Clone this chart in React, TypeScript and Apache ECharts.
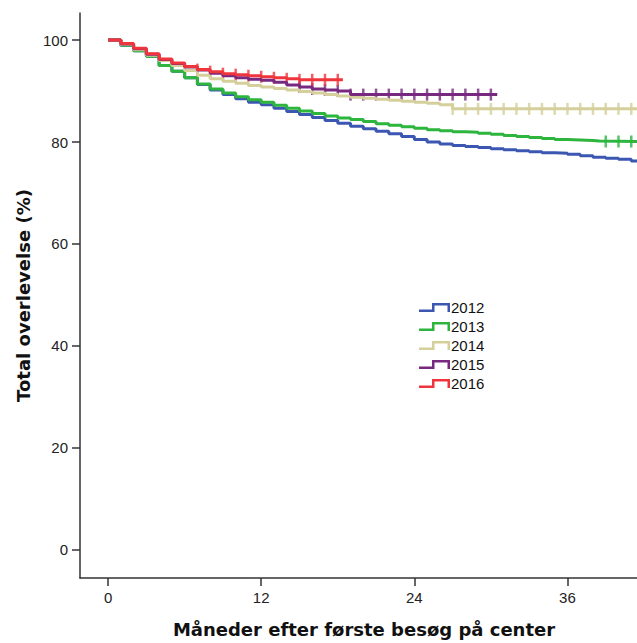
import React, { useEffect, useRef } from "react";
import * as echarts from "echarts";

const years = ["2012", "2013", "2014", "2015", "2016"];
const lineColors = ["#3B57B2", "#2DB53E", "#D5D09B", "#76297F", "#F0343C"];

const xTicks = [0, 12, 24, 36];
const yTicks = [0, 20, 40, 60, 80, 100];

// 2012
const months2012 = [0, 1, 2, 3, 4, 5, 6, 7, 8, 9, 10, 11, 12, 13, 14, 15, 16, 17, 18, 19, 20, 21, 22, 23, 24, 25, 26, 27, 28, 29, 30, 31, 32, 33, 34, 35, 36, 37, 38, 39, 40, 41, 42];
const surv2012 = [100, 99.0, 97.9, 96.8, 95.0, 93.9, 92.6, 91.3, 90.2, 89.3, 88.5, 87.8, 87.3, 86.6, 86.0, 85.4, 84.8, 84.2, 83.7, 83.1, 82.6, 82.1, 81.6, 81.1, 80.5, 80.0, 79.6, 79.3, 79.1, 78.9, 78.7, 78.5, 78.3, 78.1, 77.9, 77.8, 77.6, 77.3, 77.0, 76.8, 76.6, 76.3, 76.1];
const end2012 = 42;
const censor2012: number[] = [];

// 2013
const months2013 = [0, 1, 2, 3, 4, 5, 6, 7, 8, 9, 10, 11, 12, 13, 14, 15, 16, 17, 18, 19, 20, 21, 22, 23, 24, 25, 26, 27, 28, 29, 30, 31, 32, 33, 34, 35, 36, 37, 38, 38.5];
const surv2013 = [100, 99.0, 97.9, 96.8, 95.0, 93.9, 92.6, 91.4, 90.4, 89.6, 88.9, 88.3, 87.8, 87.2, 86.6, 86.1, 85.6, 85.1, 84.7, 84.4, 84.0, 83.6, 83.3, 83.0, 82.7, 82.4, 82.2, 82.0, 81.9, 81.7, 81.5, 81.3, 81.1, 80.9, 80.7, 80.5, 80.4, 80.3, 80.2, 80.1];
const end2013 = 42;
const censor2013 = [39, 40, 41];

// 2014
const months2014 = [0, 1, 2, 3, 4, 5, 6, 7, 8, 9, 10, 11, 12, 13, 14, 15, 16, 17, 18, 19, 20, 21, 22, 23, 24, 25, 26, 27];
const surv2014 = [100, 99.1, 98.1, 97.0, 96.0, 95.0, 94.0, 93.1, 92.4, 91.9, 91.5, 91.1, 90.8, 90.5, 90.2, 89.9, 89.6, 89.3, 89.0, 88.8, 88.6, 88.4, 88.2, 88.0, 87.8, 87.6, 87.3, 86.5];
const end2014 = 42;
const censor2014 = [27, 28, 29, 30, 31, 32, 33, 34, 35, 36, 37, 38, 39, 40, 41];

// 2015
const months2015 = [0, 1, 2, 3, 4, 5, 6, 7, 8, 9, 10, 11, 12, 13, 14, 15, 16, 17, 18, 19];
const surv2015 = [100, 99.2, 98.3, 97.2, 96.2, 95.4, 94.7, 94.1, 93.5, 93.0, 92.6, 92.3, 92.1, 91.7, 91.2, 90.8, 90.4, 90.2, 90.0, 89.3];
const end2015 = 30.5;
const censor2015 = [15, 16, 17, 18, 19, 20, 21, 22, 23, 24, 25, 26, 27, 28, 29, 30];

// 2016
const months2016 = [0, 1, 2, 3, 4, 5, 6, 7, 8, 9, 10, 11, 12, 13, 14, 15];
const surv2016 = [100, 99.3, 98.4, 97.3, 96.3, 95.5, 94.8, 94.2, 93.8, 93.4, 93.2, 93.0, 92.8, 92.6, 92.4, 92.2];
const end2016 = 18.4;
const censor2016 = [7, 8, 9, 10, 11, 12, 13, 14, 15, 16, 17, 18];

const allMonths = [months2012, months2013, months2014, months2015, months2016];
const allSurv = [surv2012, surv2013, surv2014, surv2015, surv2016];
const allEnds = [end2012, end2013, end2014, end2015, end2016];
const allCensor = [censor2012, censor2013, censor2014, censor2015, censor2016];

function survivalAt(months: number[], surv: number[], t: number) {
  let v = surv[0];
  for (let i = 0; i < months.length; i++) {
    if (months[i] <= t) v = surv[i];
  }
  return v;
}

const FONT = "'Liberation Sans', Arial, sans-serif";
const TITLE_FONT = "'DejaVu Sans', Verdana, sans-serif";
const legendIcon =
  "path://M0,6.5L13,6.5L13,0L31,0L31,9L28.5,9L28.5,2.5L15.5,2.5L15.5,9L0,9Z";

export default function App() {
  const ref = useRef<HTMLDivElement>(null);
  useEffect(() => {
    if (!ref.current) return;
    const chart = echarts.init(ref.current, null, { renderer: "svg" });
    const series: any[] = [];
    years.forEach((y, i) => {
      const months = allMonths[i];
      const surv = allSurv[i];
      const data = months.map((m, k) => [m, surv[k]]);
      data.push([allEnds[i], surv[surv.length - 1]]);
      series.push({
        name: y,
        type: "line",
        step: "end",
        data,
        symbol: "none",
        showSymbol: false,
        lineStyle: { color: lineColors[i], width: 3 },
        itemStyle: { color: lineColors[i] },
        clip: true,
        silent: true,
      });
      if (allCensor[i].length) {
        series.push({
          name: y + " censor",
          type: "scatter",
          data: allCensor[i].map((t) => [t, survivalAt(months, surv, t)]),
          symbol: "rect",
          symbolSize: [2.5, 12],
          itemStyle: { color: lineColors[i] },
          silent: true,
        });
      }
    });

    const axisColor = "#333";
    chart.setOption({
      animation: false,
      backgroundColor: "#ffffff",
      textStyle: { fontFamily: FONT },
      grid: { left: 80, right: 0, top: 13, bottom: 63 },
      legend: {
        data: years.map((y, i) => ({
          name: y,
          icon: legendIcon,
          itemStyle: { color: lineColors[i], borderWidth: 0 },
        })),
        orient: "vertical",
        left: 414,
        top: 295,
        itemWidth: 31,
        itemHeight: 9,
        itemGap: 4,
        selectedMode: false,
        textStyle: { fontSize: 15, color: "#111", fontFamily: FONT, lineHeight: 15, padding: [0, 0, 0, -4] },
      },
      xAxis: {
        type: "value",
        min: -2.2,
        max: 41.45,
        axisLine: { show: true, onZero: false, lineStyle: { color: axisColor, width: 1.5 } },
        axisTick: { show: true, customValues: xTicks, length: 8, lineStyle: { color: axisColor, width: 1.5 } },
        axisLabel: { customValues: xTicks, fontSize: 15, color: "#222", margin: 12, fontFamily: FONT },
        splitLine: { show: false },
        name: "Måneder efter første besøg på center",
        nameLocation: "middle",
        nameGap: 42,
        nameTextStyle: { fontSize: 18, fontWeight: "bold", color: "#111", fontFamily: TITLE_FONT, padding: [0, 0, 0, 11] },
      },
      yAxis: {
        type: "value",
        min: -5.5,
        max: 105.3,
        axisLine: { show: true, onZero: false, lineStyle: { color: axisColor, width: 1.5 } },
        axisTick: { show: true, customValues: yTicks, length: 8, lineStyle: { color: axisColor, width: 1.5 } },
        axisLabel: { customValues: yTicks, fontSize: 15, color: "#222", margin: 12, fontFamily: FONT },
        splitLine: { show: false },
        name: "Total overlevelse (%)",
        nameLocation: "middle",
        nameGap: 48,
        nameTextStyle: { fontSize: 18, fontWeight: "bold", color: "#111", fontFamily: TITLE_FONT },
      },
      series,
    });
    return () => chart.dispose();
  }, []);
  return (
    <div
      ref={ref}
      style={{ position: "absolute", left: 0, top: 0, width: 637, height: 643 }}
    />
  );
}
